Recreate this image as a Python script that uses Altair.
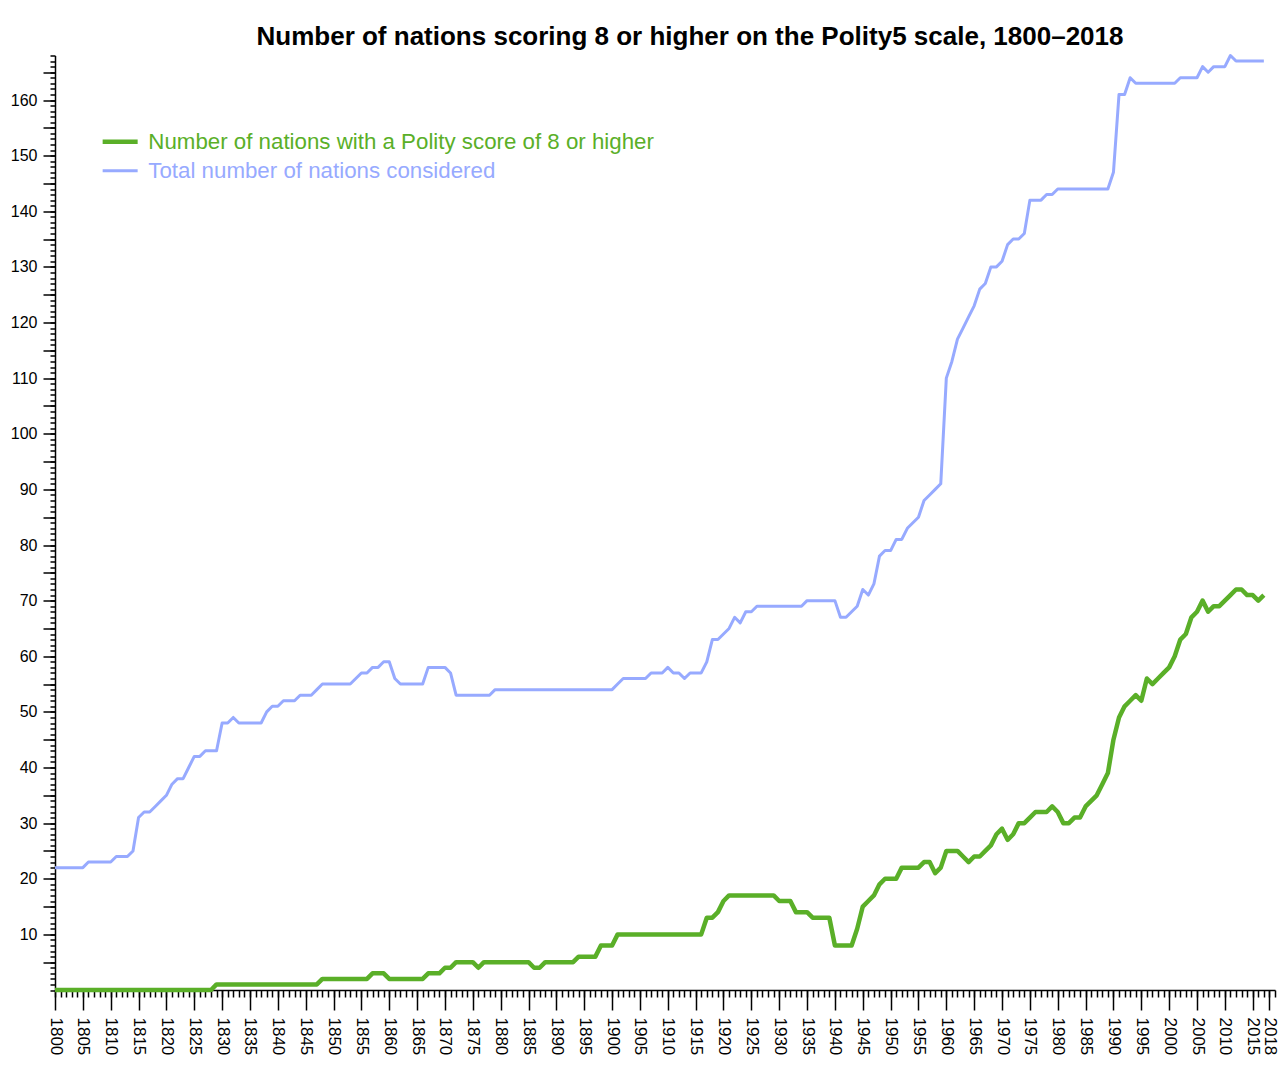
import altair as alt
import pandas as pd

FONT = "Liberation Sans"
GREEN = "#5aaf28"
BLUE = "#97aaff"

SERIES_DEM = "Number of nations with a Polity score of 8 or higher"
SERIES_TOT = "Total number of nations considered"

# years 1800 .. 2017, one value per year
total_1800s = [22, 22, 22, 22, 22, 22, 23, 23, 23, 23,
               23, 24, 24, 24, 25, 31, 32, 32, 33, 34,
               35, 37, 38, 38, 40, 42, 42, 43, 43, 43,
               48, 48, 49, 48, 48, 48, 48, 48, 50, 51,
               51, 52, 52, 52, 53, 53, 53, 54, 55, 55,
               55, 55, 55, 55, 56, 57, 57, 58, 58, 59,
               59, 56, 55, 55, 55, 55, 55, 58, 58, 58,
               58, 57, 53, 53, 53, 53, 53, 53, 53, 54,
               54, 54, 54, 54, 54, 54, 54, 54, 54, 54,
               54, 54, 54, 54, 54, 54, 54, 54, 54, 54]
total_1900s = [54, 55, 56, 56, 56, 56, 56, 57, 57, 57,
               58, 57, 57, 56, 57, 57, 57, 59, 63, 63,
               64, 65, 67, 66, 68, 68, 69, 69, 69, 69,
               69, 69, 69, 69, 69, 70, 70, 70, 70, 70,
               70, 67, 67, 68, 69, 72, 71, 73, 78, 79,
               79, 81, 81, 83, 84, 85, 88, 89, 90, 91,
               110, 113, 117, 119, 121, 123, 126, 127, 130, 130,
               131, 134, 135, 135, 136, 142, 142, 142, 143, 143,
               144, 144, 144, 144, 144, 144, 144, 144, 144, 144,
               147, 161, 161, 164, 163, 163, 163, 163, 163, 163]
total_2000s = [163, 163, 164, 164, 164, 164, 166, 165, 166, 166,
               166, 168, 167, 167, 167, 167, 167, 167]

dem_1800s = [0, 0, 0, 0, 0, 0, 0, 0, 0, 0,
             0, 0, 0, 0, 0, 0, 0, 0, 0, 0,
             0, 0, 0, 0, 0, 0, 0, 0, 0, 1,
             1, 1, 1, 1, 1, 1, 1, 1, 1, 1,
             1, 1, 1, 1, 1, 1, 1, 1, 2, 2,
             2, 2, 2, 2, 2, 2, 2, 3, 3, 3,
             2, 2, 2, 2, 2, 2, 2, 3, 3, 3,
             4, 4, 5, 5, 5, 5, 4, 5, 5, 5,
             5, 5, 5, 5, 5, 5, 4, 4, 5, 5,
             5, 5, 5, 5, 6, 6, 6, 6, 8, 8]
dem_1900s = [8, 10, 10, 10, 10, 10, 10, 10, 10, 10,
             10, 10, 10, 10, 10, 10, 10, 13, 13, 14,
             16, 17, 17, 17, 17, 17, 17, 17, 17, 17,
             16, 16, 16, 14, 14, 14, 13, 13, 13, 13,
             8, 8, 8, 8, 11, 15, 16, 17, 19, 20,
             20, 20, 22, 22, 22, 22, 23, 23, 21, 22,
             25, 25, 25, 24, 23, 24, 24, 25, 26, 28,
             29, 27, 28, 30, 30, 31, 32, 32, 32, 33,
             32, 30, 30, 31, 31, 33, 34, 35, 37, 39,
             45, 49, 51, 52, 53, 52, 56, 55, 56, 57]
dem_2000s = [58, 60, 63, 64, 67, 68, 70, 68, 69, 69,
             70, 71, 72, 72, 71, 71, 70, 71]

total = total_1800s + total_1900s + total_2000s
dem = dem_1800s + dem_1900s + dem_2000s
years = list(range(1800, 1800 + len(total)))

major_x = list(range(1800, 2016, 5)) + [2018]
minor_x = list(range(1800, 2020))
major_y = list(range(5, 166, 5))
minor_y = list(range(0, 169))

df = pd.DataFrame({
    "year": years + years,
    "value": total + dem,
    "series": [SERIES_TOT] * len(years) + [SERIES_DEM] * len(years),
})

xscale = alt.Scale(domain=[1800, 2019], nice=False, zero=False)
yscale = alt.Scale(domain=[0, 168], nice=False, zero=False)

lines = alt.Chart(df).mark_line(strokeJoin="round").encode(
    x=alt.X("year:Q", scale=xscale, title=None,
            axis=alt.Axis(orient="bottom", values=major_x, tickSize=20, tickWidth=1.5,
                          tickColor="black", domainColor="black", domainWidth=1.5,
                          labelAngle=90, labelFontSize=17, labelFont=FONT,
                          labelColor="black", labelPadding=7, labelOverlap=False,
                          format="d", grid=False)),
    y=alt.Y("value:Q", scale=yscale, title=None,
            axis=alt.Axis(orient="left", values=major_y, tickSize=12, tickWidth=1.5,
                          tickColor="black", domainColor="black", domainWidth=1.5,
                          labelFontSize=16, labelFont=FONT, labelColor="black",
                          labelPadding=6, labelOverlap=False, grid=False,
                          labelExpr="datum.value % 10 == 0 ? datum.label : ''")),
    color=alt.Color("series:N",
                    scale=alt.Scale(domain=[SERIES_DEM, SERIES_TOT], range=[GREEN, BLUE]),
                    legend=alt.Legend(
                        title=None, orient="none", legendX=54, legendY=75,
                        symbolType="M-2,0H2", symbolSize=306.25,
                        symbolStrokeWidth={"expr": "datum.index === 0 ? 4.5 : 3"},
                        labelFontSize=22.3, labelFont=FONT, labelOffset=17, labelLimit=0,
                        labelColor={"expr": "datum.index === 0 ? '" + GREEN + "' : '" + BLUE + "'"},
                        rowPadding=6, padding=0)),
    strokeWidth=alt.StrokeWidth("series:N",
                                scale=alt.Scale(domain=[SERIES_DEM, SERIES_TOT], range=[4.5, 3]),
                                legend=None),
    order=alt.Order("year:Q"),
)

minor = alt.Chart(df).mark_line(opacity=0).encode(
    x=alt.X("year:Q", scale=xscale, title=None,
            axis=alt.Axis(orient="bottom", values=minor_x, tickSize=7, tickWidth=1.5,
                          tickColor="black", domain=False, labels=False, grid=False)),
    y=alt.Y("value:Q", scale=yscale, title=None,
            axis=alt.Axis(orient="left", values=minor_y, tickSize=5, tickWidth=1.5,
                          tickColor="black", domain=False, labels=False, grid=False)),
    detail="series:N",
)

chart = alt.layer(minor, lines).resolve_axis(x="independent", y="independent").properties(
    width=1220,
    height=934.5,
    autosize=alt.AutoSizeParams(type="none"),
    padding={"left": 55, "top": 55.5, "right": 5, "bottom": 77},
    title=alt.Title("Number of nations scoring 8 or higher on the Polity5 scale, 1800\u20132018",
                    font=FONT, fontSize=26, fontWeight="bold", color="black",
                    anchor="middle", dx=25, offset=4),
).configure_view(stroke=None)

chart.save("out.html", embed_options={"renderer": "svg", "actions": False})
